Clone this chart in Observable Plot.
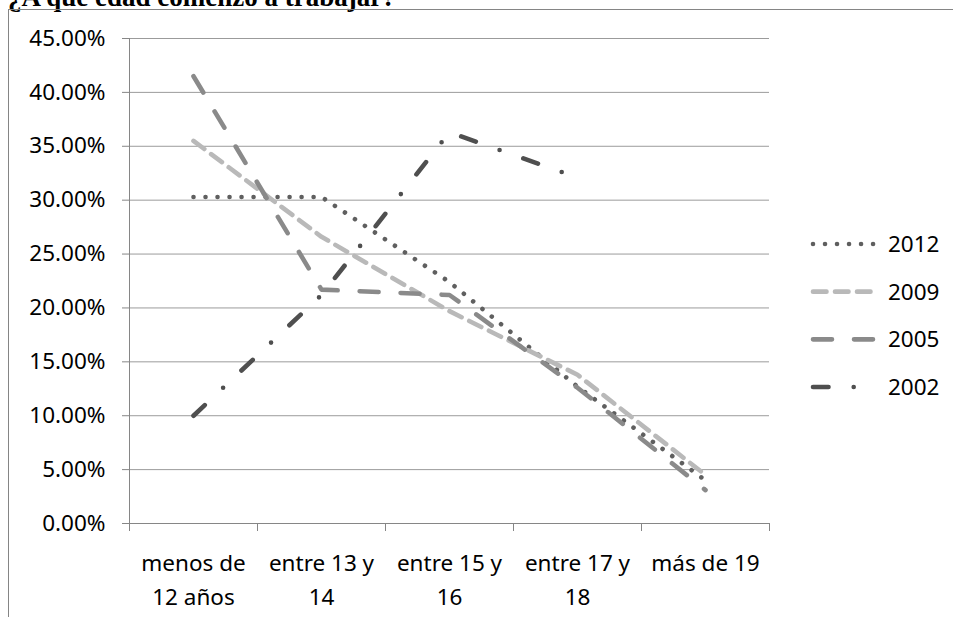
<!DOCTYPE html>
<html>
<head>
<meta charset="utf-8">
<script src="https://cdn.jsdelivr.net/npm/d3@7"></script>
<script src="https://cdn.jsdelivr.net/npm/@observablehq/plot@0.6"></script>
<style>
  html, body { margin: 0; padding: 0; background: #fff; overflow: hidden; }
  #wrap { position: relative; width: 953px; height: 617px; overflow: hidden; }
  #title { position: absolute; left: 8px; top: -16px; font-family: "Liberation Serif", "Times New Roman", serif;
           font-weight: bold; font-size: 27px; line-height: 27px; white-space: nowrap; color: #000; }
  #frame { position: absolute; left: 8px; top: 9px; width: 2000px; height: 2000px;
           border-left: 1px solid #858585; border-top: 1px solid #858585; }
  #chart { position: absolute; left: 0; top: 0; }
  #legend { position: absolute; left: 805px; top: 220px; }
</style>
</head>
<body>
<div id="wrap">
  <div id="title">¿A qué edad comenzó a trabajar?</div>
  <div id="frame"></div>
  <div id="chart"></div>
  <div id="legend"></div>
</div>
<script>
// ---- data ----
const categories = ["menos de\n12 años", "entre 13 y\n14", "entre 15 y\n16", "entre 17 y\n18", "más de 19"];
const years = ["2012", "2009", "2005", "2002"];
const values2012 = [0.303, 0.303, 0.224, 0.127, 0.040];
const values2009 = [0.355, 0.266, 0.197, 0.138, 0.045];
const values2005 = [0.415, 0.217, 0.212, 0.126, 0.031];
const values2002 = [0.100, 0.212, 0.363, 0.321];
const yTicks = [0, 0.05, 0.10, 0.15, 0.20, 0.25, 0.30, 0.35, 0.40, 0.45];

// ---- styles ----
const seriesColor = {"2012": "#5f5f5f", "2009": "#b9b9b9", "2005": "#8a8a8a", "2002": "#4f4f4f"};
const seriesDash = {"2012": "0.01,12", "2009": "13.5,8.5", "2005": "19,22", "2002": "15.5,25.2,0,25.2"};
const gridColor = "#9b9b9b";
const axisColor = "#868686";
const font = "'Noto Sans', 'Open Sans', sans-serif";

const seriesValues = {"2012": values2012, "2009": values2009, "2005": values2005, "2002": values2002};
const rows = [];
for (const y of years) {
  seriesValues[y].forEach((v, i) => rows.push({year: y, pos: i + 0.5, value: v}));
}

const lineMarks = years.map(y => Plot.line(rows.filter(d => d.year === y), {
  x: "pos", y: "value",
  stroke: seriesColor[y], strokeWidth: 4.6,
  strokeDasharray: seriesDash[y], strokeLinecap: "round", strokeLinejoin: "round"
}));

const chart = Plot.plot({
  width: 953, height: 617,
  marginLeft: 129, marginRight: 184, marginTop: 38, marginBottom: 94,
  x: {domain: [0, categories.length], label: null},
  y: {domain: [0, 0.45], label: null},
  style: {fontFamily: font, fontSize: "22.5px", color: "#000", background: "transparent", overflow: "visible"},
  marks: [
    Plot.gridY(yTicks, {stroke: gridColor, strokeOpacity: 1, strokeWidth: 1}),
    Plot.axisY({ticks: yTicks, tickFormat: d3.format(".2%"), tickSize: 7, tickPadding: 17, label: null,
                stroke: axisColor, strokeOpacity: 1, fontSize: 22.5, fill: "#000"}),
    Plot.ruleX([0], {stroke: axisColor, strokeWidth: 1}),
    Plot.ruleY([0], {stroke: axisColor, strokeWidth: 1}),
    Plot.axisX({ticks: d3.range(categories.length + 1), tickSize: 8, tickFormat: () => "", label: null,
                stroke: axisColor, strokeOpacity: 1}),
    Plot.axisX({ticks: categories.map((c, i) => i + 0.5), tickSize: 0, tickPadding: 24, label: null,
                tickFormat: t => categories[Math.round(t - 0.5)], lineHeight: 1.5,
                fontSize: 22.5, fill: "#000"}),
    ...lineMarks
  ]
});
document.getElementById("chart").appendChild(chart);

// ---- legend ----
const lg = d3.select("#legend").append("svg")
  .attr("width", 148).attr("height", 190)
  .style("font-family", font).style("font-size", "22.5px");
const rowY = d3.scalePoint().domain(years).range([24, 167]);
years.forEach(y => {
  const g = lg.append("g").attr("transform", `translate(0,${rowY(y)})`);
  g.append("line").attr("x1", 8).attr("x2", 71).attr("y1", 0).attr("y2", 0)
    .attr("stroke", seriesColor[y]).attr("stroke-width", 4.6)
    .attr("stroke-dasharray", seriesDash[y]).attr("stroke-linecap", "round");
  g.append("text").attr("x", 83).attr("y", 0).attr("dy", "0.35em").attr("fill", "#000").text(y);
});
</script>
</body>
</html>
